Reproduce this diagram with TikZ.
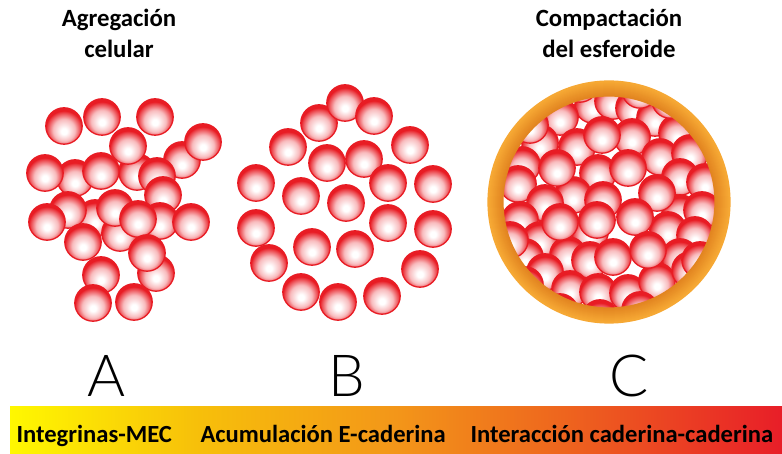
\documentclass[tikz,border=0pt]{standalone}
\usepackage{fontspec}
\setmainfont{Carlito}
\newfontfamily\stagefont{Lato Light}
\begin{document}
\definecolor{cellred}{RGB}{232,28,36}
\definecolor{ringdark}{RGB}{226,132,32}
\definecolor{ringlight}{RGB}{246,168,52}
\definecolor{barA}{RGB}{255,248,0}
\definecolor{barB}{RGB}{247,192,10}
\definecolor{barC}{RGB}{243,150,25}
\definecolor{barD}{RGB}{238,100,30}
\definecolor{barE}{RGB}{232,30,40}
% glossy cell: white highlight below the centre, red rim
\pgfdeclareradialshading{cellshade}{\pgfpoint{0bp}{-8bp}}{%
  color(0bp)=(white); color(4bp)=(white);
  color(15bp)=(cellred!30!white); color(22bp)=(cellred!78!white);
  color(25bp)=(cellred); color(50bp)=(cellred)}
% yellow -> orange -> red gradient of the bottom band
\pgfdeclarehorizontalshading{barshade}{100bp}{%
  color(0bp)=(barA); color(25bp)=(barA); color(37bp)=(barB);
  color(50bp)=(barC); color(61bp)=(barD); color(75bp)=(barE); color(100bp)=(barE)}
\begin{tikzpicture}[x=1pt,y=-1pt,
  cell/.style={shading=cellshade, draw=cellred, line width=1.3pt},
  title/.style={anchor=base, font=\bfseries\fontsize{24.8}{28}\selectfont},
  stage/.style={anchor=base, font=\stagefont\fontsize{58}{58}\selectfont},
  bandlabel/.style={anchor=base west, font=\bfseries\fontsize{24.6}{28}\selectfont}]
\useasboundingbox (0,0) rectangle (782,454);
\newcommand\cellat[2]{\shade[cell] (#1,#2) circle (18.2pt);}

% titles
\node[title] (titleA1) at (119,27) {Agregación};
\node[title] (titleA2) at (119,58) {celular};
\node[title] (titleC1) at (609,27) {Compactación};
\node[title] (titleC2) at (609,58) {del esferoide};

% A: loose aggregate
\foreach \x/\y in {137/172,182/160,203/142,128/146,64/126,102/117,155/117,
  75/178,45/173,101/171,157/176,163/195,95/218,160/221,68/210,47/222,
  120/233,115/208,138/219,191/222,83/242,156/273,147/253,101/275,
  93/303,134/302}
  {\cellat{\x}{\y}}

% B: cells gathering into a ring
\foreach \x/\y in {319/123,345/103,374/116,288/147,410/145,327/163,364/159,
  256/183,301/196,388/183,433/184,346/203,256/228,388/223,433/229,
  312/247,355/249,269/263,420/269,301/292,338/302,382/296}
  {\cellat{\x}{\y}}

% C: compact spheroid inside its shell
\coordinate (shell) at (609,202);
\begin{scope}
  \clip (shell) circle (107pt);
  \foreach \x/\y in {593/105,613/101,634/108,655/118,560/117,677/133,540/143,
    577/147,632/137,660/157,690/153,522/165,518/184,598/173,680/177,
    705/182,573/195,603/200,545/203,680/213,702/210,520/220,590/232,
    597/220,668/230,695/235,540/240,525/257,568/255,590/260,680/257,
    545/272,570/289,598/292,628/293,657/281,690/270,510/240,525/285,
    640/310,600/318,560/312,580/84,640/90,670/100,530/125,700/260,
    602/135,557/168,628/168,657/193,560/222,635/217,613/257,648/250}
    {\cellat{\x}{\y}}
\end{scope}
% shell: a band shaded from its inner edge outwards
\foreach \i in {0,...,14}{
  \pgfmathtruncatemacro\mix{100*\i/14}
  \pgfmathsetmacro\rad{106.5+\i}
  \draw[line width=2.2pt, color=ringlight!\mix!ringdark] (shell) circle (\rad pt);
}

% stage letters
\node[stage] (stageA) at (107,396) {A};
\node[stage] (stageB) at (347,396) {B};
\node[stage] (stageC) at (629,396) {C};

% bottom band and its labels
\shade[shading=barshade] (10,406) rectangle (782,454);
\node[bandlabel] (bandA) at (13,442) {Integrinas-MEC};
\node[bandlabel] (bandB) at (197,442) {Acumulación E-caderina};
\node[bandlabel] (bandC) at (467,442) {Interacción caderina-caderina};
\end{tikzpicture}
\end{document}
